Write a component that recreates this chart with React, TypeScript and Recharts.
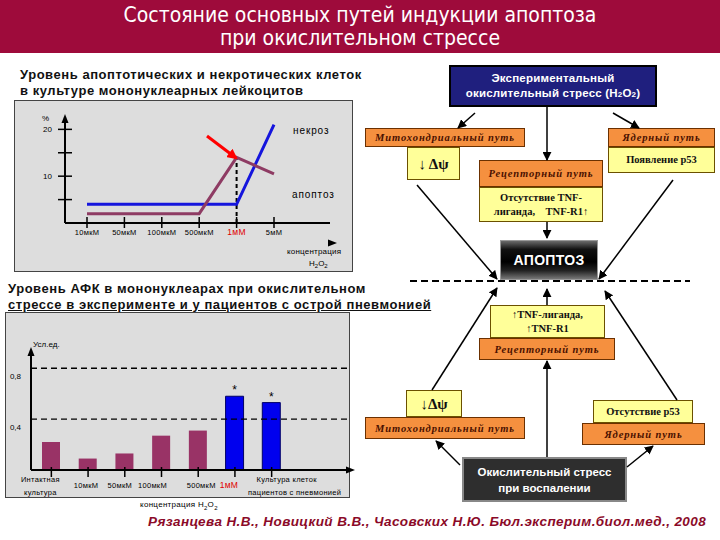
import React from 'react';
import { LineChart, Line, XAxis, YAxis, BarChart, Bar, Cell, ReferenceLine, LabelList } from 'recharts';

// top chart: % of cells vs H2O2 concentration
const concentrations = ['10мкМ', '50мкМ', '100мкМ', '500мкМ', '1мМ', '5мМ'];
const necrosis = [4, 4, 4, 4, 4, 21];
const apoptosis = [2, 2, 2, 2, 14, 10.5];
const percentTicks = [5, 10, 15, 20];
const percentLabels = [10, 20];

// bottom chart: ROS level
const rosLabels = [
  ['Интактная', 'культура'],
  ['10мкМ'],
  ['50мкМ'],
  ['100мкМ'],
  ['500мкМ'],
  ['1мМ'],
  ['Культура клеток', 'пациентов с пневмонией'],
];
const rosValues = [0.22, 0.09, 0.13, 0.27, 0.31, 0.58, 0.53];
const rosSignificant = [false, false, false, false, false, true, true];
const rosTicks = [0.4, 0.8];
const rosTickLabels = ['0,4', '0,8'];

const lineData = concentrations.map((c, i) => ({ c, necrosis: necrosis[i], apoptosis: apoptosis[i] }));
const rosNames = rosLabels.map(l => l.join(' '));
const barData = rosNames.map((name, i) => ({
  name,
  value: rosValues[i],
  sig: rosSignificant[i],
  star: rosSignificant[i] ? '*' : '',
}));

const SANS = '"Liberation Sans", Arial, sans-serif';
const SERIF = '"Liberation Serif", "Times New Roman", serif';
const RED1MM = '#e00000';

const PercentTick = (props: any) => {
  const { x, y, payload } = props;
  return (
    <g>
      <line x1={x - 7} x2={x + 7} y1={y} y2={y} stroke="#000" strokeWidth={1.5} />
      {percentLabels.includes(payload.value) && (
        <text x={x - 13} y={y + 3} textAnchor="end" fontSize={8} fontFamily={SANS} fill="#000">
          {payload.value}
        </text>
      )}
    </g>
  );
};

const ConcTick = (props: any) => {
  const { x, y, payload } = props;
  const red = payload.value === '1мМ';
  return (
    <g>
      <line x1={x} x2={x} y1={y - 6} y2={y + 5} stroke="#000" strokeWidth={1.5} />
      <text x={x} y={y + 12} textAnchor="middle" fontSize={red ? 8.5 : 7.5} fontFamily={SANS} fill={red ? RED1MM : '#000'} letterSpacing={0.3}>
        {payload.value}
      </text>
    </g>
  );
};

const RosYTick = (props: any) => {
  const { x, y, payload } = props;
  const i = rosTicks.indexOf(payload.value);
  return (
    <text x={x - 10} y={y + 11} textAnchor="end" fontSize={8} fontFamily={SANS} fill="#000">
      {rosTickLabels[i]}
    </text>
  );
};

const RosXTick = (props: any) => {
  const { x, y, payload } = props;
  const i = rosNames.indexOf(payload.value);
  const lines = rosLabels[i] || [];
  const shift = [-11, -2, -5, -9, 3, -6, 15][i] || 0;
  const red = payload.value === '1мМ';
  return (
    <g>
      <line x1={x} x2={x} y1={y - 3} y2={y + 7} stroke="#000" strokeWidth={1.5} />
      {lines.length === 1 ? (
        <text x={x + shift} y={y + 18} textAnchor="middle" fontSize={red ? 8.5 : 7.5} fontFamily={SANS} fill={red ? RED1MM : '#000'} letterSpacing={0.3}>
          {lines[0]}
        </text>
      ) : (
        lines.map((l, k) => (
          <text key={k} x={x + shift + k * (i === 6 ? 8 : 0)} y={y + 12 + k * 13} textAnchor="middle" fontSize={7.5} fontFamily={SANS} fill="#000" letterSpacing={0.3}>
            {l}
          </text>
        ))
      )}
    </g>
  );
};

const abs = (left: number, top: number, width: number, height: number): React.CSSProperties => ({
  position: 'absolute', left, top, width, height, boxSizing: 'border-box',
  display: 'flex', alignItems: 'center', justifyContent: 'center', textAlign: 'center',
});

const Orange = ({ l, t, w, h, children }: any) => (
  <div style={{ ...abs(l, t, w, h), background: '#f5903f', border: '1px solid #6b3000', fontFamily: SERIF, fontStyle: 'italic', fontWeight: 'bold', fontSize: 10.5, letterSpacing: 0.9, color: '#4a1000' }}>
    {children}
  </div>
);

const Yellow = ({ l, t, w, h, children, size }: any) => (
  <div style={{ ...abs(l, t, w, h), background: '#ffff99', border: '1px solid #6b5000', fontFamily: SERIF, fontWeight: 'bold', fontSize: size || 10.5, color: '#111', lineHeight: '14px' }}>
    <div>{children}</div>
  </div>
);

const arrows = [
  [475, 113, 458, 128],
  [547, 107, 547, 160],
  [613, 113, 639, 128],
  [547, 222, 547, 238],
  [417, 185, 497, 279],
  [673, 180, 599, 279],
  [432, 390, 497, 288],
  [547, 305, 547, 289],
  [677, 400, 605, 291],
  [547, 457, 547, 361],
  [460, 465, 436, 441],
  [627, 467, 653, 446],
];

export default function App() {
  return (
    <div style={{ position: 'absolute', left: 0, top: 0, width: 720, height: 540, background: '#fff', overflow: 'hidden', fontFamily: SANS }}>
      {/* title bar */}
      <div style={{ position: 'absolute', left: 0, top: 0, width: 720, height: 53, background: '#9e0b3b', color: '#fff', textAlign: 'center', fontFamily: '"Liberation Sans Narrow", "DejaVu Sans Condensed", sans-serif', fontSize: 21, lineHeight: '23px', paddingTop: 4, boxSizing: 'border-box' }}>
        <div>Состояние основных путей индукции апоптоза</div>
        <div>при окислительном стрессе</div>
      </div>

      {/* top chart */}
      <div style={{ position: 'absolute', left: 20, top: 67, fontSize: 13, fontWeight: 'bold', lineHeight: '16px', letterSpacing: 0.55, color: '#111', whiteSpace: 'nowrap' }}>
        <div>Уровень апоптотических и некротических клеток</div>
        <div>в культуре мононуклеарных лейкоцитов</div>
      </div>
      <div style={{ position: 'absolute', left: 14, top: 100, width: 339, height: 172, background: '#dddddd', border: '1px solid #444', boxSizing: 'border-box' }}>
        <LineChart width={337} height={170} data={lineData} margin={{ top: 19, right: 22, bottom: 28, left: 20 }} style={{ overflow: 'visible' }}>
          <XAxis dataKey="c" scale="point" padding={{ left: 22, right: 56 }} height={20} tick={ConcTick} tickLine={false} tickSize={0} tickMargin={0} interval={0} axisLine={{ stroke: '#000', strokeWidth: 2 }} />
          <YAxis type="number" domain={[0, 22]} ticks={percentTicks} width={30} tick={PercentTick} tickLine={false} tickSize={0} tickMargin={0} interval={0} axisLine={{ stroke: '#000', strokeWidth: 2 }} />
          <ReferenceLine segment={[{ x: '1мМ', y: 0 }, { x: '1мМ', y: apoptosis[4] }]} stroke="#000" strokeWidth={2} strokeDasharray="4 3" />
          <Line dataKey="necrosis" type="linear" stroke="#1515dd" strokeWidth={3} dot={false} isAnimationActive={false} />
          <Line dataKey="apoptosis" type="linear" stroke="#8e3b63" strokeWidth={3} dot={false} isAnimationActive={false} />
        </LineChart>
      </div>

      {/* bottom chart */}
      <div style={{ position: 'absolute', left: 8, top: 281, fontSize: 13, fontWeight: 'bold', lineHeight: '16px', letterSpacing: 0.55, color: '#111', whiteSpace: 'nowrap' }}>
        <div>Уровень АФК в мононуклеарах при окислительном</div>
        <div style={{ textDecoration: 'underline' }}>стрессе в эксперименте и у пациентов с острой пневмонией</div>
      </div>
      <div style={{ position: 'absolute', left: 5, top: 312, width: 345, height: 186, background: '#dddddd', border: '1px solid #444', boxSizing: 'border-box' }}>
        <BarChart width={343} height={184} data={barData} margin={{ top: 40, right: 1, bottom: 7, left: 5 }} style={{ overflow: 'visible' }}>
          <XAxis dataKey="name" padding={{ left: 2, right: 58 }} height={20} tick={RosXTick} tickLine={false} tickSize={0} tickMargin={0} interval={0} axisLine={{ stroke: '#000', strokeWidth: 2 }} />
          <YAxis type="number" domain={[0, 0.92]} ticks={rosTicks} width={20} tick={RosYTick} tickLine={false} tickSize={0} tickMargin={0} interval={0} axisLine={{ stroke: '#000', strokeWidth: 2 }} />
          {rosTicks.map(t => (
            <ReferenceLine key={t} y={t} stroke="#000" strokeWidth={1.3} strokeDasharray="6 4" />
          ))}
          <Bar dataKey="value" barSize={18} isAnimationActive={false}>
            {barData.map((r, i) => (
              <Cell key={i} fill={r.sig ? '#0000ee' : '#993366'} stroke={r.sig ? '#000066' : 'none'} />
            ))}
            <LabelList dataKey="star" position="top" offset={2} fontSize={12} fill="#000" fontFamily={SANS} />
          </Bar>
        </BarChart>
      </div>
      <div style={{ position: 'absolute', left: 140, top: 500, fontSize: 8, letterSpacing: 0.3 }}>
        концентрация H<sub style={{ fontSize: 6 }}>2</sub>O<sub style={{ fontSize: 6 }}>2</sub>
      </div>

      {/* right diagram */}
      <div style={{ ...abs(449, 65, 208, 42), background: '#1f1f7e', border: '2px solid #000', color: '#fff', fontWeight: 'bold', fontSize: 11.5, lineHeight: '15px', letterSpacing: 0.2 }}>
        <div>
          Экспериментальный
          <br />
          окислительный стресс (H<span style={{ fontSize: 8 }}>2</span>O<span style={{ fontSize: 8 }}>2</span>)
        </div>
      </div>
      <Orange l={365} t={128} w={160} h={19}>Митохондриальный путь</Orange>
      <Yellow l={407} t={147} w={53} h={33} size={15}>↓ Δψ</Yellow>
      <Orange l={608} t={128} w={107} h={19}>Ядерный путь</Orange>
      <Yellow l={608} t={147} w={107} h={26}>Появление р53</Yellow>
      <Orange l={479} t={160} w={124} h={27}>Рецепторный путь</Orange>
      <Yellow l={479} t={187} w={124} h={35}>
        Отсутствие TNF-
        <br />
        лиганда,&nbsp;&nbsp;&nbsp; TNF-R1↑
      </Yellow>
      <div style={{ ...abs(500, 240, 98, 40), background: 'linear-gradient(180deg, #6a6a6a 0%, #111 22%, #000 55%, #222 78%, #777 100%)', border: '1px solid #999', color: '#fff', fontWeight: 'bold', fontSize: 14, letterSpacing: 0.3 }}>
        АПОПТОЗ
      </div>

      <Yellow l={490} t={305} w={115} h={33}>
        ↑TNF-лиганда,
        <br />
        ↑TNF-R1
      </Yellow>
      <Orange l={479} t={338} w={136} h={22}>Рецепторный путь</Orange>
      <Yellow l={406} t={390} w={56} h={27} size={15}>↓Δψ</Yellow>
      <Orange l={365} t={417} w={160} h={22}>Митохондриальный путь</Orange>
      <Yellow l={593} t={400} w={100} h={23}>Отсутствие р53</Yellow>
      <Orange l={582} t={423} w={123} h={22}>Ядерный путь</Orange>
      <div style={{ ...abs(462, 457, 165, 45), background: '#2e2e2e', border: '2px solid #888', color: '#fff', fontWeight: 'bold', fontSize: 11.5, lineHeight: '16px' }}>
        <div>
          Окислительный стресс
          <br />
          при воспалении
        </div>
      </div>

      <div style={{ position: 'absolute', left: 148, top: 514, fontSize: 13.5, letterSpacing: 0.4, fontWeight: 'bold', fontStyle: 'italic', color: '#8b0a28', whiteSpace: 'nowrap' }}>
        Рязанцева Н.В., Новицкий В.В., Часовских Н.Ю. Бюл.эксперим.биол.мед., 2008
      </div>

      {/* overlay: axis arrows, annotations, diagram connectors */}
      <svg width={720} height={540} style={{ position: 'absolute', left: 0, top: 0, pointerEvents: 'none' }}>
        <defs>
          <marker id="ah" viewBox="0 0 10 10" refX="9" refY="5" markerWidth="6" markerHeight="6" orient="auto">
            <path d="M0,0 L10,5 L0,10 z" fill="#000" />
          </marker>
          <marker id="ahr" viewBox="0 0 10 10" refX="8" refY="5" markerWidth="3.5" markerHeight="3.5" orient="auto">
            <path d="M0,0 L10,5 L0,10 z" fill="#f00" />
          </marker>
        </defs>
        <polygon points="65,114 61.5,123 68.5,123" fill="#000" />
        <polygon points="337,243 328,239.5 328,246.5" fill="#000" />
        <polygon points="31,347 27.5,356 34.5,356" fill="#000" />
        <polygon points="355,470 346,466.5 346,473.5" fill="#000" />
        <line x1={207} y1={136} x2={236} y2={158} stroke="#f00" strokeWidth={3} markerEnd="url(#ahr)" />

        <g fontFamily={SANS} fill="#000">
          <text x={42} y={121} fontSize={8}>%</text>
          <text x={293} y={134} fontSize={10} letterSpacing={0.9}>некроз</text>
          <text x={292} y={198} fontSize={10} letterSpacing={0.9}>апоптоз</text>
          <text x={287} y={254} fontSize={8} letterSpacing={0.2}>концентрация</text>
          <text x={309} y={266} fontSize={8}>
            H<tspan fontSize={6} dy={2}>2</tspan>
            <tspan dy={-2}>O</tspan>
            <tspan fontSize={6} dy={2}>2</tspan>
          </text>
          <text x={33} y={347} fontSize={8}>Усл.ед.</text>
        </g>

        {arrows.map(([x1, y1, x2, y2], i) => (
          <line key={i} x1={x1} y1={y1} x2={x2} y2={y2} stroke="#000" strokeWidth={1.5} markerEnd="url(#ah)" />
        ))}
        <line x1={410} y1={281} x2={690} y2={281} stroke="#000" strokeWidth={2} strokeDasharray="7 4" />
      </svg>
    </div>
  );
}
